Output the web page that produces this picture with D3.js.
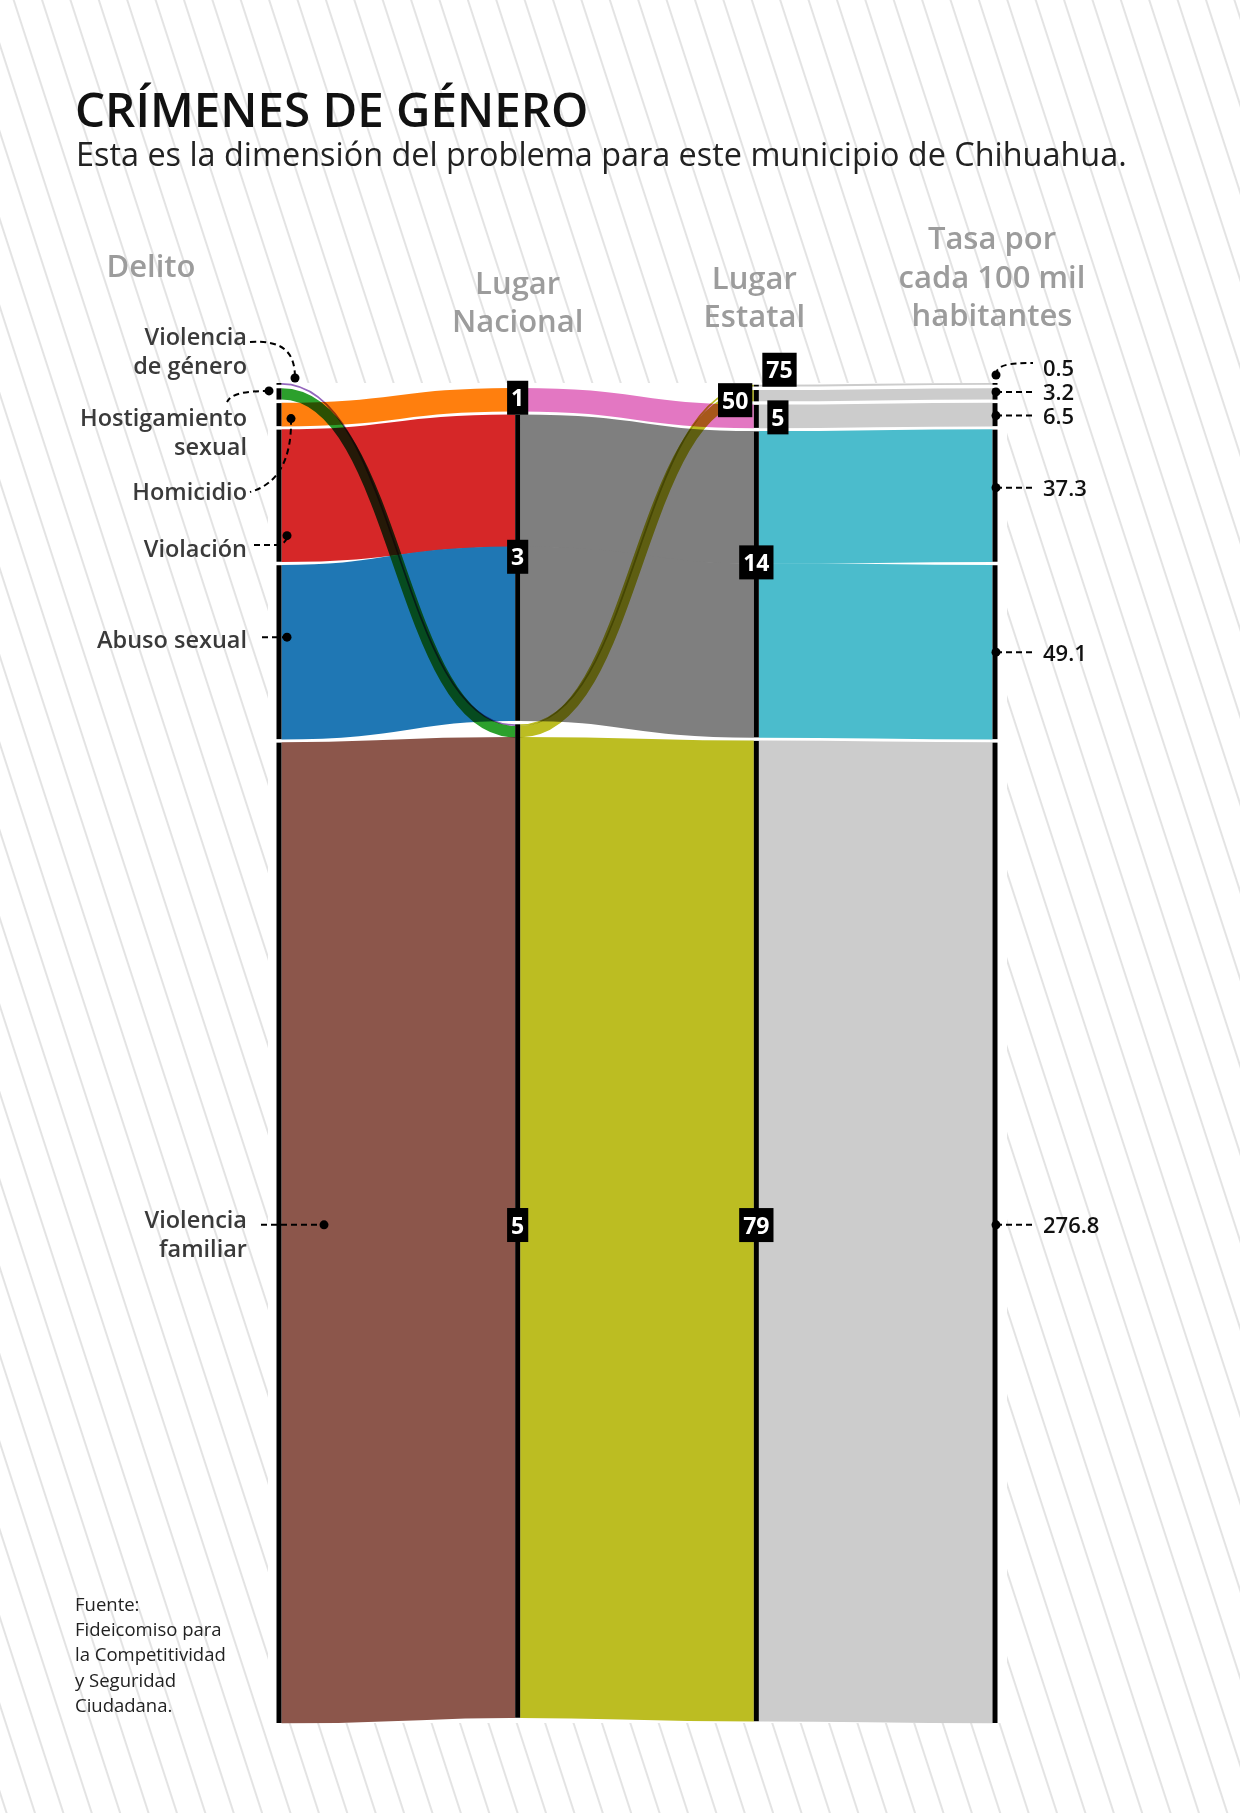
<!DOCTYPE html>
<html><head><meta charset="utf-8">
<script src="https://cdn.jsdelivr.net/npm/d3@7"></script>
<style>
html,body{margin:0;padding:0;background:#fff;}
svg{display:block;}
text{font-family:"Open Sans","Noto Sans",sans-serif;}
</style></head><body>
<svg id="chart" width="1240" height="1813"></svg>
<script>
// ---------------- DATA ----------------
const dimensions = ["Delito", "Lugar Nacional", "Lugar Estatal", "Tasa por cada 100 mil habitantes"];
const crimes = ["Violencia de género", "Hostigamiento sexual", "Homicidio", "Violación", "Abuso sexual", "Violencia familiar"];
const tasa = [0.5, 3.2, 6.5, 37.3, 49.1, 276.8];
const lugarNacional = [5, 5, 1, 3, 3, 5];
const lugarEstatal = [75, 50, 5, 14, 14, 79];
const crimeColors = ["#9467bd", "#2ca02c", "#ff7f0e", "#d62728", "#1f77b4", "#8c564b"];
const nacionalKeys = [1, 3, 5];
const nacionalColors = ["#e377c2", "#7f7f7f", "#bcbd22"];
const estatalKeys = [75, 50, 5, 14, 79];
const estatalColors = ["#cccccc", "#cccccc", "#cccccc", "#4bbccc", "#cccccc"];
const headerLines = [["Delito"], ["Lugar", "Nacional"], ["Lugar", "Estatal"], ["Tasa por", "cada 100 mil", "habitantes"]];
const title = "CRÍMENES DE GÉNERO";
const subtitle = "Esta es la dimensión del problema para este municipio de Chihuahua.";
const sourceLines = ["Fuente:", "Fideicomiso para", "la Competitividad", "y Seguridad", "Ciudadana."];

// ---------------- LAYOUT ----------------
const W = 1240, H = 1813;
const yTop = 383, yBottom = 1723, gap = 3.5, nodeW = 5;
const svg = d3.select("#chart");

const x = d3.scalePoint().domain(dimensions).range([279, 995]);
const total = d3.sum(tasa);
const maxNodes = crimes.length;
const y = d3.scaleLinear().domain([0, total]).range([0, (yBottom - yTop) - (maxNodes - 1) * gap]);

const keyFns = [i => crimes[i], i => lugarNacional[i], i => lugarEstatal[i], i => crimes[i]];

function layoutAxis(keyOf) {
  const groups = d3.groups(d3.range(crimes.length), keyOf)
    .map(([key, idx]) => ({key, idx, sum: d3.sum(idx, i => tasa[i])}))
    .sort((a, b) => a.sum - b.sum);
  const hTot = y(total) + (groups.length - 1) * gap;
  let cur = yTop + ((yBottom - yTop) - hTot) / 2;
  const pos = [];
  groups.forEach(g => {
    g.y0 = cur;
    g.idx.forEach(i => { pos[i] = {y0: cur, y1: cur + y(tasa[i])}; cur += y(tasa[i]); });
    g.y1 = cur;
    cur += gap;
  });
  return {nodes: groups, pos};
}
const axes = keyFns.map(layoutAxis);

// background hatch
const defs = svg.append("defs");
const pat = defs.append("pattern").attr("id", "hatch").attr("patternUnits", "userSpaceOnUse")
  .attr("width", 27).attr("height", 27).attr("patternTransform", "rotate(-18)");
pat.append("line").attr("x1", 13).attr("y1", -1).attr("x2", 13).attr("y2", 28)
  .attr("stroke", "#c8c8c8").attr("stroke-width", 1);
svg.append("rect").attr("width", W).attr("height", H).attr("fill", "#fff");
svg.append("rect").attr("width", W).attr("height", H).attr("fill", "url(#hatch)");
svg.append("rect").attr("x", x(dimensions[0]) - 11).attr("y", yTop)
  .attr("width", x(dimensions[3]) - x(dimensions[0]) + 23).attr("height", yBottom - yTop).attr("fill", "#fff");

// title
svg.append("text").attr("x", 75).attr("y", 127).text(title)
  .attr("font-size", 47.5).attr("font-weight", 600).attr("fill", "#111");
svg.append("text").attr("x", 76).attr("y", 166).text(subtitle)
  .attr("font-size", 32.4).attr("font-weight", 400).attr("fill", "#222");

// headers
const headerBase = [[277], [294, 332], [289, 327], [249, 288, 326]];
const headerX = [151, x(dimensions[1]), x(dimensions[2]) - 2, x(dimensions[3]) - 3];
headerLines.forEach((lines, d) => {
  lines.forEach((ln, j) => {
    svg.append("text").attr("x", headerX[d]).attr("y", headerBase[d][j]).text(ln)
      .attr("text-anchor", "middle").attr("font-size", 31).attr("font-weight", 600).attr("fill", "#9c9c9c");
  });
});

// links (sankey-style stroked bands); thin bands are drawn last and blended (multiply)
const link = d3.linkHorizontal();
const segColor = [
  i => crimeColors[i],
  i => nacionalColors[nacionalKeys.indexOf(lugarNacional[i])],
  i => estatalColors[estatalKeys.indexOf(lugarEstatal[i])]
];
const thin = i => y(tasa[i]) < 15;
const order = d3.range(crimes.length).sort((a, b) => d3.ascending(thin(a), thin(b)) || a - b);
const gR = svg.append("g").attr("class", "links").attr("fill", "none");
for (let s = 0; s < 3; s++) {
  const x0 = x(dimensions[s]) + nodeW / 2, x1 = x(dimensions[s + 1]) - nodeW / 2;
  gR.selectAll(null).data(order).enter().append("path")
    .attr("d", i => {
      const a = axes[s].pos[i], b = axes[s + 1].pos[i];
      return link({source: [x0, (a.y0 + a.y1) / 2], target: [x1, (b.y0 + b.y1) / 2]});
    })
    .attr("stroke", i => segColor[s](i))
    .attr("stroke-width", i => thin(i) ? Math.max(1, y(tasa[i])) : y(tasa[i]) + 0.6)
    .style("mix-blend-mode", i => thin(i) ? "multiply" : null);
}

// node bars (axes)
axes.forEach((ax, a) => {
  svg.append("g").selectAll("rect").data(ax.nodes).enter().append("rect")
    .attr("x", x(dimensions[a]) - nodeW / 2).attr("y", d => d.y0)
    .attr("width", nodeW).attr("height", d => Math.max(1.2, d.y1 - d.y0))
    .attr("fill", "#000");
});

// rank boxes on axes 2 and 3
const boxShift = {
  "1|1": {dy: -2}, "1|3": {dy: -11}, "1|5": {dy: 4},
  "2|75": {side: "right", dx: 6, above: true}, "2|50": {side: "left", dx: -4, dy: 4.5},
  "2|5": {side: "right", dx: 11, dy: 1}, "2|14": {dy: -22}, "2|79": {dy: -6}
};
[1, 2].forEach(a => {
  axes[a].nodes.forEach(n => {
    const g = svg.append("g");
    const t = g.append("text").text(n.key).attr("font-size", 23).attr("font-weight", 700)
      .attr("fill", "#fff").attr("text-anchor", "middle");
    const tw = t.node().getComputedTextLength();
    const bw = tw + 8, bh = 34;
    const sh = boxShift[a + "|" + n.key] || {};
    let cx = x(dimensions[a]), cy = (n.y0 + n.y1) / 2 + (sh.dy || 0);
    if (sh.side === "right") cx = x(dimensions[a]) + sh.dx + bw / 2;
    if (sh.side === "left") cx = x(dimensions[a]) + sh.dx - bw / 2;
    if (sh.above) cy = n.y0 + 2 - bh / 2;
    g.insert("rect", "text").attr("x", cx - bw / 2).attr("y", cy - bh / 2).attr("width", bw).attr("height", bh).attr("fill", "#000");
    t.attr("x", cx).attr("y", cy + 8.5);
  });
});

// left annotations
const labelRight = 247;
const leftNotes = [
  {wrap: true, base: 345, dx: 16, dy: -5, kind: "arcDown", from: [250, 342]},
  {wrap: true, base: 426, dx: -10, dy: -3, kind: "hookLeft", to: [227, 402]},
  {wrap: false, base: 500, dx: 12, dy: 4, kind: "hookDown", to: [250, 492]},
  {wrap: false, base: 557, dx: 8, dy: 40, kind: "elbow", from: [254, 545]},
  {wrap: false, base: 648, dx: 8, dy: -15, kind: "straight", from: [262]},
  {wrap: true, base: 1228, dx: 45, dy: -8, kind: "straight", from: [261]}
];
const gL = svg.append("g");
crimes.forEach((c, i) => {
  const n = leftNotes[i];
  const words = c.split(" ");
  const lines = n.wrap ? [words[0], words.slice(1).join(" ")] : [c];
  lines.forEach((ln, j) => gL.append("text").attr("x", labelRight).attr("y", n.base + j * 29).text(ln)
    .attr("text-anchor", "end").attr("font-size", 23.5).attr("font-weight", 600).attr("fill", "#3a3a3a"));
  const p = axes[0].pos[i];
  const ax = x(dimensions[0]);
  const dotX = ax + n.dx;
  const dotY = (i === 0 ? p.y0 : (p.y0 + p.y1) / 2) + n.dy;
  let d;
  if (n.kind === "arcDown") d = `M${n.from[0]},${n.from[1]}C${dotX - 12},${n.from[1] - 2} ${dotX},${n.from[1] + 10} ${dotX},${dotY}`;
  else if (n.kind === "hookLeft") d = `M${dotX},${dotY}C${dotX - 25},${dotY} ${n.to[0] + 4},${dotY + 3} ${n.to[0]},${n.to[1]}`;
  else if (n.kind === "hookDown") d = `M${dotX},${dotY}C${dotX + 1},${dotY + 43} ${dotX - 15},${n.to[1] - 7} ${n.to[0]},${n.to[1]}`;
  else if (n.kind === "elbow") d = `M${n.from[0]},${n.from[1]}L${dotX - 11},${n.from[1]}C${dotX - 3},${n.from[1]} ${dotX},${n.from[1] - 5} ${dotX},${dotY}`;
  else d = `M${n.from[0]},${dotY}L${dotX},${dotY}`;
  gL.append("path").attr("d", d).attr("fill", "none").attr("stroke", "#000").attr("stroke-width", 2).attr("stroke-dasharray", "6,4");
  gL.append("circle").attr("cx", dotX).attr("cy", dotY).attr("r", 4.5).attr("fill", "#000");
});

// right annotations (tasa values)
const rightDy = [-8, -2, 1, -8, 0, -8];
const gRt = svg.append("g");
const fmt = d3.format(".1f");
tasa.forEach((v, i) => {
  const p = axes[3].pos[i];
  const ax = x(dimensions[3]) + 1;
  const cy = i === 0 ? p.y0 + rightDy[i] : (p.y0 + p.y1) / 2 + rightDy[i];
  let d, ty;
  if (i === 0) { d = `M${ax},${cy}C${ax},${cy - 10} ${ax + 12},${cy - 12} ${ax + 37},${cy - 12}`; ty = cy + 1; }
  else { d = `M${ax},${cy}L${ax + 37},${cy}`; ty = cy + 8.5; }
  gRt.append("path").attr("d", d).attr("fill", "none").attr("stroke", "#000").attr("stroke-width", 2).attr("stroke-dasharray", "6,4");
  gRt.append("circle").attr("cx", ax).attr("cy", cy).attr("r", 4.5).attr("fill", "#000");
  gRt.append("text").attr("x", ax + 47).attr("y", ty).text(fmt(v))
    .attr("font-size", 22).attr("font-weight", 600).attr("fill", "#111");
});

// source
sourceLines.forEach((ln, j) => svg.append("text").attr("x", 75).attr("y", 1611 + j * 25.2).text(ln)
  .attr("font-size", 18.5).attr("font-weight", 400).attr("fill", "#222"));
</script>
</body></html>
